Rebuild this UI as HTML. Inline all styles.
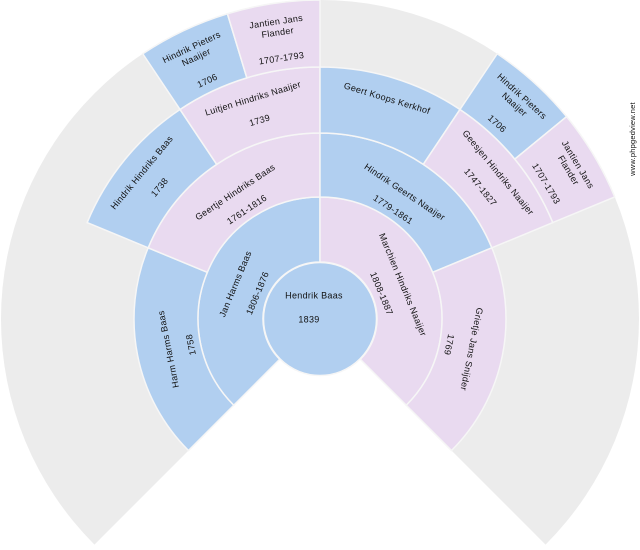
<!DOCTYPE html>
<html><head><meta charset="utf-8"><style>
html,body{margin:0;padding:0;background:#fff;width:640px;height:550px;overflow:hidden}
svg text{font-family:"Liberation Sans","DejaVu Sans",sans-serif;font-size:9px;fill:#111;text-anchor:middle;dominant-baseline:middle;letter-spacing:0.3px}
</style></head><body>
<svg id="s" width="640" height="550" viewBox="0 0 640 550">
<g id="shapes"></g>
<text x="314" y="296">Hendrik Baas</text>
<text x="309" y="320">1839</text>
<!-- gen1 -->
<g transform="translate(320 319) rotate(-67.5)"><text y="-91">Jan Harms Baas</text><text y="-67">1806-1876</text></g>
<g transform="translate(320 319) rotate(67.5)"><text y="-89">Marchien Hindriks Naaijer</text><text y="-66">1808-1887</text></g>
<!-- gen2 -->
<g transform="translate(320 319) rotate(-101.25)"><text y="-154">Harm Harms Baas</text><text y="-131">1758</text></g>
<g transform="translate(320 319) rotate(-33.75)"><text y="-152">Geertje Hindriks Baas</text><text y="-131">1761-1816</text></g>
<g transform="translate(320 319) rotate(33.75)"><text y="-152">Hindrik Geerts Naaijer</text><text y="-131">1779-1861</text></g>
<g transform="translate(320 319) rotate(101.25)"><text y="-154">Grietje Jans Snijder</text><text y="-131">1769</text></g>
<!-- gen3 -->
<g transform="translate(320 319) rotate(-50.6)"><text y="-230">Hindrik Hindriks Baas</text><text y="-207">1738</text></g>
<g transform="translate(320 319) rotate(-16.9)"><text y="-230">Luitjen Hindriks Naaijer</text><text y="-207">1739</text></g>
<g transform="translate(320 319) rotate(16.9)"><text y="-230">Geert Koops Kerkhof</text></g>
<g transform="translate(320 319) rotate(50.6)"><text y="-230">Geesjen Hindriks Naaijer</text><text y="-207">1747-1827</text></g>
<!-- gen4 -->
<g transform="translate(320 319) rotate(-25.3)"><text y="-300">Hindrik Pieters</text><text y="-289">Naaijer</text><text y="-263">1706</text></g>
<g transform="translate(320 319) rotate(-8.4)"><text y="-300">Jantien Jans</text><text y="-289">Flander</text><text y="-263">1707-1793</text></g>
<g transform="translate(320 319) rotate(42.2)"><text y="-300">Hindrik Pieters</text><text y="-289">Naaijer</text><text y="-263">1706</text></g>
<g transform="translate(320 319) rotate(59.1)"><text y="-300">Jantien Jans</text><text y="-289">Flander</text><text y="-263">1707-1793</text></g>
<text transform="translate(633 139) rotate(-90)" style="font-size:7.5px;letter-spacing:0.2px">www.phpgedview.net</text>
</svg>
<script>
var cx=320,cy=319,B="#b1cff0",P="#e9daf0",G="#ececec";
function pt(r,a){a=a*Math.PI/180;return (cx+r*Math.sin(a)).toFixed(2)+" "+(cy-r*Math.cos(a)).toFixed(2);}
function sec(a1,a2,r0,r1,c,st){
 var l=(a2-a1)>180?1:0;
 var d="M"+pt(r1,a1)+" A"+r1+" "+r1+" 0 "+l+" 1 "+pt(r1,a2);
 if(r0>0) d+=" L"+pt(r0,a2)+" A"+r0+" "+r0+" 0 "+l+" 0 "+pt(r0,a1)+"Z"; else d+=" L"+cx+" "+cy+"Z";
 return '<path d="'+d+'" fill="'+c+'"'+(st?' stroke="#f6f6f6" stroke-width="1.5"':'')+'/>';
}
var h=sec(-135,135,0,319,G,false);
var s=[[-135,0,57,122,B],[0,135,57,122,P],
[-135,-67.5,122,186,B],[-67.5,0,122,186,P],[0,67.5,122,186,B],[67.5,135,122,186,P],
[-67.5,-33.75,186,252,B],[-33.75,0,186,252,P],[0,33.75,186,252,B],[33.75,67.5,186,252,P],
[-33.75,-16.875,252,319,B],[-16.875,0,252,319,P],[33.75,50.625,252,319,B],[50.625,67.5,252,319,P]];
s.forEach(function(q){h+=sec(q[0],q[1],q[2],q[3],q[4],true);});
h+='<circle cx="'+cx+'" cy="'+cy+'" r="56.5" fill="'+B+'" stroke="#f6f6f6" stroke-width="1.5"/>';
document.getElementById("shapes").innerHTML=h;
</script>
</body></html>
